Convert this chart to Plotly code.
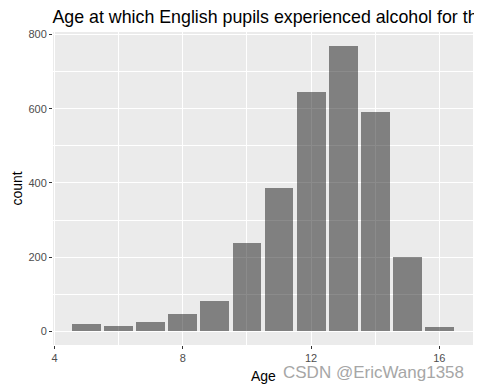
import plotly.graph_objects as go

ages = [5, 6, 7, 8, 9, 10, 11, 12, 13, 14, 15, 16]
counts = [20, 15, 25, 47, 82, 238, 386, 645, 769, 591, 200, 11]
x_ticks = [4, 8, 12, 16]
y_ticks = [0, 200, 400, 600, 800]

# The page body adds an 8px offset; the figure is sized so it fits the window.
W, H = 474, 382
L, R, T, B = 45, 9, 24, 45

fig = go.Figure()
fig.add_trace(go.Bar(
    x=ages, y=counts, width=0.9,
    marker=dict(color="rgba(0,0,0,0.455)", line=dict(width=0)),
))

font = "Liberation Sans, Arial, sans-serif"
fig.update_layout(
    width=W, height=H,
    margin=dict(l=L, r=R, t=T, b=B, autoexpand=False),
    paper_bgcolor="white",
    plot_bgcolor="#EBEBEB",
    showlegend=False,
    bargap=0,
    font=dict(family=font, color="#4D4D4D", size=11),
    title=dict(text="Age at which English pupils experienced alcohol for the first time",
               x=44.5 / W, xref="container", xanchor="left",
               y=1 - 9 / H, yref="container", yanchor="middle",
               font=dict(family=font, size=17.8, color="black")),
    annotations=[
        dict(text="CSDN @EricWang1358", xref="paper", yref="paper",
             x=(458 - L) / (W - L - R), y=0, xanchor="right", yanchor="middle",
             yshift=-27, showarrow=False,
             font=dict(family=font, size=17, color="#A6A6A6")),
        dict(text="Age", xref="paper", yref="paper", x=0.5, y=0, showarrow=False,
             xanchor="center", yanchor="middle", yshift=-31,
             font=dict(family=font, size=14, color="black")),
        dict(text="count", xref="paper", yref="paper", x=0, y=0.5, showarrow=False,
             xanchor="center", yanchor="middle", xshift=-37, textangle=-90,
             font=dict(family=font, size=14, color="black")),
    ],
)
fig.update_xaxes(
    range=[3.95, 17.05], tickvals=x_ticks, ticktext=[str(v) for v in x_ticks],
    showgrid=True, gridcolor="white", gridwidth=1.1,
    minor=dict(tickvals=[6, 10, 14], showgrid=True, gridcolor="white", gridwidth=0.55),
    ticks="outside", ticklen=3, tickcolor="#333333", tickwidth=1,
    zeroline=False, showline=False, automargin=False,
)
fig.update_yaxes(
    range=[-37, 807], tickvals=y_ticks, ticktext=[str(v) for v in y_ticks],
    showgrid=True, gridcolor="white", gridwidth=1.1,
    minor=dict(tickvals=[100, 300, 500, 700], showgrid=True, gridcolor="white", gridwidth=0.55),
    ticks="outside", ticklen=3, tickcolor="#333333", tickwidth=1,
    zeroline=False, showline=False, automargin=False,
)
fig.write_html("out.html")
